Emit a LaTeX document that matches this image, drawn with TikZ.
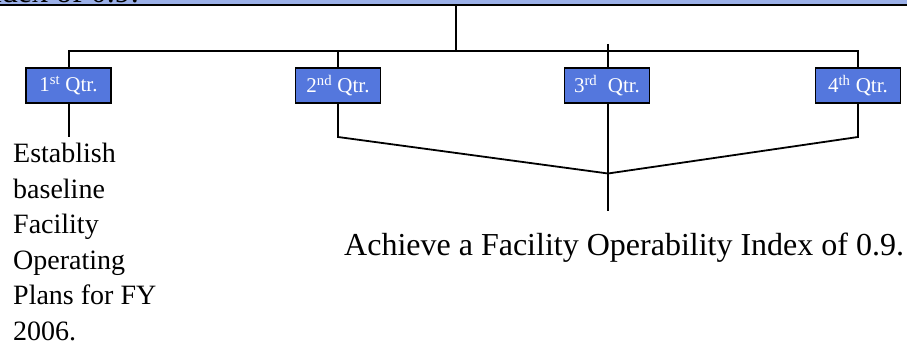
\documentclass[tikz,border=0pt]{standalone}
\usepackage{fontspec}
\setmainfont{Liberation Serif}
\definecolor{barblue}{RGB}{155,176,232}
\definecolor{boxblue}{RGB}{84,119,221}
\tikzset{
  qbox/.style={draw=black, line width=1.8pt, fill=boxblue, minimum width=85pt, minimum height=35pt,
    inner sep=0pt, text=white, font=\fontsize{21}{24}\selectfont},
  conn/.style={line width=1.8pt, draw=black},
}
\begin{document}
\begin{tikzpicture}[x=1pt,y=-1pt]
\useasboundingbox (0,0) rectangle (907,344);
% top bar (cut off)
\fill[barblue] (0,-20) rectangle (907,5);
\node[anchor=base east, inner sep=0pt, font=\fontsize{32}{36}\selectfont] (toptext) at (139,2.5) {ndex of 0.9.};
\draw[line width=2.2pt] (0,5) -- (907,5);
\coordinate (barc) at (456,5);
\coordinate (hub) at (456,51);
\coordinate (h1) at (69,51);
\coordinate (h2) at (338,51);
\coordinate (h4) at (858,51);
\coordinate (t3) at (608,44);
\coordinate (e1) at (69,137);
\coordinate (e2) at (338,137);
\coordinate (e4) at (858,137);
\coordinate (join) at (608,173.5);
\coordinate (e3) at (608,211);
% boxes
\node[qbox] (q1) at (68.5,85.5) {1\textsuperscript{st} Qtr.};
\node[qbox] (q2) at (338,85.5) {2\textsuperscript{nd} Qtr.};
\node[qbox] (q3) at (607,85.5) {3\textsuperscript{rd}\ \ Qtr.};
\node[qbox] (q4) at (858,85.5) {4\textsuperscript{th} Qtr.};
% connectors
\draw[conn] (barc) -- (hub);
\draw[conn] (q1.north -| h1) -- (h1) -- (h4) -- (q4.north -| h4);
\draw[conn] (h2) -- (q2.north -| h2);
\draw[conn] (t3) -- (q3.north -| t3);
\draw[conn] (q1.south -| e1) -- (e1);
\draw[conn] (q2.south -| e2) -- (e2) -- (join);
\draw[conn] (q4.south -| e4) -- (e4) -- (join);
\draw[conn] (q3.south -| e3) -- (e3);
% texts
\node[anchor=base west, inner sep=0pt, font=\fontsize{28}{35.5}\selectfont] (est) at (13,163)
  {\begin{tabular}[t]{@{}l@{}}Establish\\ baseline\\ Facility\\ Operating\\ Plans for FY\\ 2006.\end{tabular}};
\node[anchor=base west, inner sep=0pt, font=\fontsize{32}{36}\selectfont] (ach) at (344,255.5)
  {Achieve a Facility Operability Index of 0.9.};
\end{tikzpicture}
\end{document}
